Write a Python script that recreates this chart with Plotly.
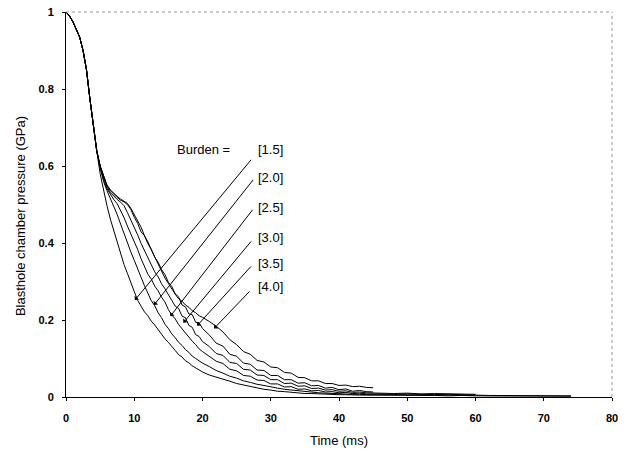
import plotly.graph_objects as go

# ---- data ----
head_t = [0, 0.5, 1, 1.5, 2, 2.5, 3, 3.5, 4, 4.5]
head_p = [1.0, 0.99, 0.975, 0.957, 0.935, 0.9, 0.85, 0.775, 0.70, 0.64]

main_t = [5 + 0.5 * i for i in range(31)]          # 5 .. 20 ms
mid_t = list(range(21, 45))                         # 21 .. 44 ms

burdens = ["1.5", "2.0", "2.5", "3.0", "3.5", "4.0"]

p_main = {
    "1.5": [0.58, 0.535, 0.497, 0.462, 0.432, 0.401, 0.373, 0.344, 0.321, 0.295, 0.274, 0.251, 0.236, 0.221, 0.211, 0.197,
            0.187, 0.174, 0.164, 0.151, 0.142, 0.13, 0.121, 0.11, 0.104, 0.094, 0.089, 0.081, 0.076, 0.069, 0.065],
    "2.0": [0.595, 0.56, 0.536, 0.516, 0.497, 0.474, 0.449, 0.424, 0.403, 0.377, 0.355, 0.331, 0.311, 0.289, 0.271, 0.25,
            0.237, 0.219, 0.206, 0.189, 0.178, 0.164, 0.154, 0.142, 0.134, 0.123, 0.116, 0.106, 0.1, 0.093, 0.088],
    "2.5": [0.6, 0.566, 0.541, 0.526, 0.513, 0.502, 0.486, 0.466, 0.444, 0.425, 0.402, 0.383, 0.359, 0.341, 0.319, 0.306,
            0.288, 0.276, 0.259, 0.247, 0.227, 0.213, 0.203, 0.188, 0.177, 0.165, 0.155, 0.145, 0.136, 0.125, 0.118],
    "3.0": [0.6, 0.571, 0.546, 0.531, 0.521, 0.513, 0.506, 0.497, 0.479, 0.461, 0.44, 0.421, 0.399, 0.381, 0.359, 0.344,
            0.325, 0.312, 0.294, 0.281, 0.264, 0.251, 0.236, 0.23, 0.21, 0.206, 0.186, 0.181, 0.162, 0.157, 0.144],
    "3.5": [0.6, 0.573, 0.549, 0.536, 0.526, 0.518, 0.511, 0.507, 0.5, 0.487, 0.467, 0.451, 0.429, 0.419, 0.398, 0.384,
            0.363, 0.35, 0.331, 0.318, 0.298, 0.287, 0.268, 0.26, 0.239, 0.234, 0.216, 0.214, 0.194, 0.193, 0.178],
    "4.0": [0.6, 0.574, 0.551, 0.538, 0.529, 0.521, 0.514, 0.509, 0.503, 0.49, 0.474, 0.457, 0.441, 0.419, 0.403, 0.382,
            0.364, 0.344, 0.328, 0.309, 0.295, 0.279, 0.267, 0.255, 0.249, 0.239, 0.233, 0.224, 0.219, 0.211, 0.207],
}

p_mid = {
    "1.5": [0.057, 0.052, 0.045, 0.041, 0.035, 0.031, 0.027, 0.024, 0.02, 0.018, 0.015, 0.014, 0.012, 0.011, 0.009, 0.009,
            0.008, 0.007, 0.007, 0.006, 0.006, 0.005, 0.005, 0.005],
    "2.0": [0.079, 0.069, 0.062, 0.054, 0.049, 0.042, 0.038, 0.033, 0.03, 0.026, 0.023, 0.02, 0.018, 0.016, 0.014, 0.012,
            0.011, 0.01, 0.009, 0.008, 0.008, 0.007, 0.007, 0.006],
    "2.5": [0.106, 0.093, 0.087, 0.072, 0.068, 0.056, 0.054, 0.044, 0.043, 0.034, 0.034, 0.026, 0.027, 0.02, 0.021, 0.016,
            0.017, 0.013, 0.014, 0.011, 0.012, 0.009, 0.01, 0.008],
    "3.0": [0.131, 0.113, 0.108, 0.09, 0.087, 0.072, 0.07, 0.057, 0.056, 0.045, 0.045, 0.035, 0.036, 0.028, 0.029, 0.022,
            0.023, 0.018, 0.019, 0.015, 0.016, 0.012, 0.013, 0.011],
    "3.5": [0.161, 0.14, 0.132, 0.111, 0.106, 0.088, 0.085, 0.07, 0.069, 0.056, 0.056, 0.045, 0.045, 0.036, 0.037, 0.029,
            0.03, 0.023, 0.025, 0.019, 0.021, 0.015, 0.017, 0.014],
    "4.0": [0.196, 0.184, 0.169, 0.149, 0.136, 0.118, 0.111, 0.095, 0.091, 0.078, 0.076, 0.064, 0.062, 0.051, 0.05, 0.042,
            0.042, 0.035, 0.035, 0.03, 0.031, 0.027, 0.028, 0.025],
}

tail_t = {
    "1.5": [46, 48, 50, 52, 54, 56, 58, 60, 62, 64, 66, 68, 70, 72, 74],
    "2.0": [46, 48, 50, 52, 54, 56, 58, 60, 62, 64, 66, 68, 70, 72, 74],
    "2.5": [46, 48, 50, 52, 54, 56, 58, 60],
    "3.0": [46, 48, 50, 52, 54, 56, 58, 60],
    "3.5": [45],
    "4.0": [45],
}
tail_p = {
    "1.5": [0.005, 0.004, 0.005, 0.004, 0.004, 0.003, 0.004, 0.003, 0.003, 0.003, 0.002, 0.003, 0.002, 0.002, 0.002],
    "2.0": [0.006, 0.006, 0.005, 0.006, 0.005, 0.005, 0.004, 0.005, 0.004, 0.004, 0.004, 0.003, 0.004, 0.003, 0.003],
    "2.5": [0.008, 0.007, 0.008, 0.007, 0.006, 0.007, 0.006, 0.005],
    "3.0": [0.01, 0.009, 0.01, 0.008, 0.009, 0.008, 0.007, 0.007],
    "3.5": [0.013],
    "4.0": [0.024],
}

# label positions and arrow (tail -> head) in data coordinates
label_y = [0.642, 0.571, 0.493, 0.415, 0.347, 0.288]
arrow_tail = [(27.3, 0.62), (27.6, 0.568), (27.5, 0.49), (27.3, 0.408), (27.3, 0.343), (27.1, 0.278)]
arrow_head = [(10.1, 0.252), (12.9, 0.239), (15.3, 0.21), (17.2, 0.193), (19.2, 0.185), (21.7, 0.178)]

x_ticks = [0, 10, 20, 30, 40, 50, 60, 70, 80]
y_ticks = [0, 0.2, 0.4, 0.6, 0.8, 1.0]
y_ticktext = ["0", "0.2", "0.4", "0.6", "0.8", "1"]

FONT = "Liberation Sans, Arial, sans-serif"

fig = go.Figure()
for b in burdens:
    t = head_t + main_t + mid_t + tail_t[b]
    p = head_p + p_main[b] + p_mid[b] + tail_p[b]
    fig.add_trace(go.Scatter(x=t, y=p, mode="lines", line=dict(color="black", width=1),
                             name=b, showlegend=False, hoverinfo="skip"))

annotations = []
annotations.append(dict(x=15.9, y=0.644, xref="x", yref="y", text="Burden =", showarrow=False,
                        xanchor="left", yanchor="middle", font=dict(family=FONT, size=13, color="black")))
for b, ly, (tx, ty), (hx, hy) in zip(burdens, label_y, arrow_tail, arrow_head):
    annotations.append(dict(x=27.9, y=ly, xref="x", yref="y", text="[" + b + "]", showarrow=False,
                            xanchor="left", yanchor="middle", font=dict(family=FONT, size=13, color="black")))
    annotations.append(dict(x=hx, y=hy, ax=tx, ay=ty, xref="x", yref="y", axref="x", ayref="y",
                            text="", showarrow=True, arrowhead=1, arrowsize=1, arrowwidth=1,
                            arrowcolor="black", standoff=0, startstandoff=0))

annotations.append(dict(x=0.5, y=0, xref="paper", yref="paper", yshift=-43, text="Time (ms)",
                        showarrow=False, xanchor="center", yanchor="middle",
                        font=dict(family=FONT, size=13, color="black")))
annotations.append(dict(x=0, y=0.47, xref="paper", yref="paper", xshift=-46, text="Blasthole chamber pressure (GPa)",
                        showarrow=False, xanchor="center", yanchor="middle", textangle=-90,
                        font=dict(family=FONT, size=13, color="black")))

fig.update_layout(
    width=630, height=454,
    margin=dict(l=66, r=18, t=12, b=57, autoexpand=False),
    paper_bgcolor="white", plot_bgcolor="white",
    annotations=annotations,
    shapes=[
        dict(type="line", xref="paper", yref="paper", x0=0, y0=1, x1=1, y1=1,
             line=dict(color="#9a9a9a", width=1, dash="dot")),
        dict(type="line", xref="paper", yref="paper", x0=1, y0=0, x1=1, y1=1,
             line=dict(color="#9a9a9a", width=1, dash="dot")),
    ],
)
fig.update_xaxes(range=[0, 80], tickvals=x_ticks, showgrid=False, zeroline=False, automargin=False,
                 showline=True, linecolor="black", linewidth=1, ticks="outside", ticklen=3,
                 tickcolor="black", ticklabelstandoff=8, ticklabeloverflow="allow",
                 tickfont=dict(family=FONT, size=11, color="black", weight="bold"))
fig.update_yaxes(range=[0, 1], tickvals=y_ticks, ticktext=y_ticktext, showgrid=False, zeroline=False, automargin=False,
                 showline=True, linecolor="black", linewidth=1, ticks="outside", ticklen=3,
                 tickcolor="black", ticklabelstandoff=6, ticklabeloverflow="allow",
                 tickfont=dict(family=FONT, size=11, color="black", weight="bold"))

# remove the default 8px page margin so the 630x454 figure fills the window exactly
fig.write_html("out.html", config={"displayModeBar": False},
               post_script="document.body.style.margin='0';")
